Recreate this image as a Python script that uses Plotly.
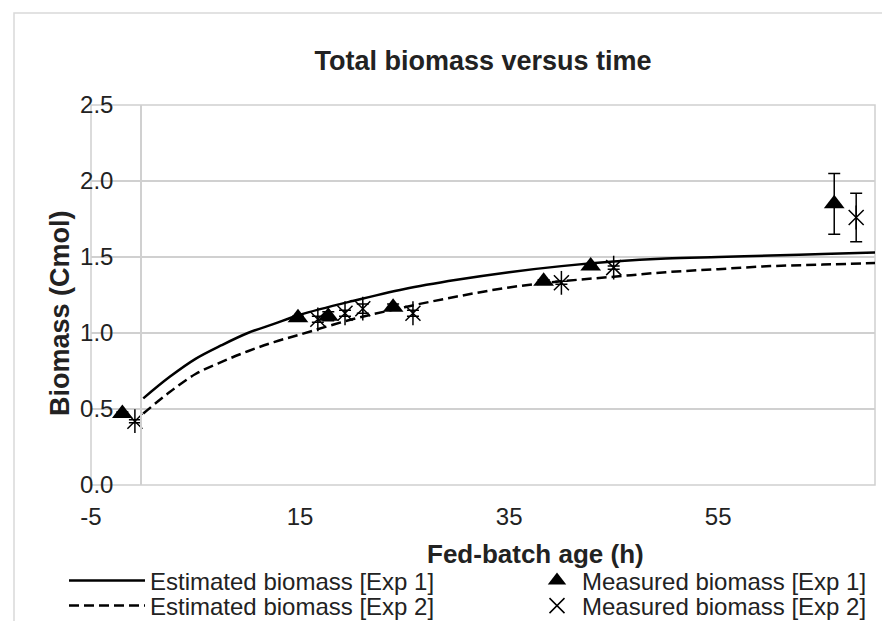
import plotly.graph_objects as go

# ---- data ----
est_x = [0, 2.5, 5, 7.5, 10, 12.5, 15, 20, 25, 30, 35, 40, 45, 50, 55, 60, 65, 70]
est1_y = [0.57, 0.71, 0.83, 0.92, 1.00, 1.06, 1.12, 1.21, 1.29, 1.35, 1.40, 1.44, 1.47, 1.49, 1.50, 1.51, 1.52, 1.53]
est2_y = [0.47, 0.61, 0.73, 0.81, 0.88, 0.94, 0.99, 1.09, 1.17, 1.24, 1.30, 1.34, 1.37, 1.40, 1.42, 1.44, 1.45, 1.46]

meas1_x = [-2.0, 14.8, 17.7, 23.9, 38.3, 42.8, 66.1]
meas1_y = [0.47, 1.10, 1.11, 1.17, 1.34, 1.44, 1.85]
meas1_err = [0.01, 0.01, 0.03, 0.02, 0.01, 0.01, 0.20]

meas2_x = [-0.8, 16.7, 19.3, 21.0, 25.8, 40.0, 45.0, 68.2]
meas2_y = [0.42, 1.09, 1.13, 1.16, 1.13, 1.33, 1.43, 1.76]
meas2_err = [0.01, 0.02, 0.02, 0.03, 0.02, 0.01, 0.01, 0.16]

x_ticks = [-5, 15, 35, 55]
y_ticks = [0.0, 0.5, 1.0, 1.5, 2.0, 2.5]
y_ticklabels = ["0.0", "0.5", "1.0", "1.5", "2.0", "2.5"]

FONT = "Liberation Sans, Arial, sans-serif"
TXT = "#222222"
GRID = "#d0d0d0"

# plot-area geometry (px)
W, H = 890, 621
L, R, T, B = 83, 867, 97, 477
PW, PH = R - L, B - T

def px_x(px):
    return (px - L) / PW

def px_y(py):
    return (B - py) / PH

fig = go.Figure()

fig.add_trace(go.Scatter(
    x=est_x, y=est1_y, mode="lines", name="Estimated biomass [Exp 1]",
    line=dict(color="black", width=2.5, shape="spline"), legend="legend"))
fig.add_trace(go.Scatter(
    x=meas1_x, y=meas1_y, mode="markers", name="Measured biomass [Exp 1]",
    marker=dict(symbol="triangle-up", size=18, color="black"),
    error_y=dict(type="data", array=meas1_err, color="black", thickness=1.5, width=6),
    legend="legend2"))
fig.add_trace(go.Scatter(
    x=est_x, y=est2_y, mode="lines", name="Estimated biomass [Exp 2]",
    line=dict(color="black", width=2.5, dash="10px,5px", shape="spline"), legend="legend3"))
fig.add_trace(go.Scatter(
    x=meas2_x, y=meas2_y, mode="markers", name="Measured biomass [Exp 2]",
    marker=dict(symbol="x-thin-open", size=15, color="black", line=dict(width=1.5, color="black")),
    error_y=dict(type="data", array=meas2_err, color="black", thickness=1.5, width=6),
    legend="legend4"))
fig.add_trace(go.Scatter(
    x=meas2_x, y=meas2_y, mode="markers", showlegend=False, hoverinfo="skip",
    marker=dict(symbol="line-ns-open", size=17, color="black", line=dict(width=1.5, color="black"))))

ROW1, ROW2 = 573, 598
LEFT_X, RIGHT_X = 56, 524
leg_common = dict(xanchor="left", yanchor="middle", orientation="v",
                  font=dict(size=24, family=FONT, color=TXT), bgcolor="rgba(0,0,0,0)")

fig.update_layout(
    width=W, height=H,
    margin=dict(l=L, r=W - R, t=T, b=H - B, autoexpand=False),
    paper_bgcolor="white", plot_bgcolor="white",
    font=dict(family=FONT, color=TXT),
    title=dict(text="<b>Total biomass versus time</b>", x=0.5, xref="paper", xanchor="center",
               y=1 - 53 / H, yref="container", yanchor="middle",
               font=dict(size=27, family=FONT, color=TXT)),
    xaxis=dict(range=[-5, 70], tickmode="array", tickvals=x_ticks, ticktext=[str(v) for v in x_ticks],
               showgrid=False, zeroline=False, showline=False,
               tickfont=dict(size=24, family=FONT, color=TXT), ticks="", ticklabelstandoff=15),
    yaxis=dict(range=[0, 2.5], tickmode="array", tickvals=y_ticks, ticktext=y_ticklabels,
               showgrid=True, gridcolor=GRID, gridwidth=1.5, zeroline=False,
               anchor="free", position=px_x(133), showline=True, linecolor=GRID, linewidth=1.5,
               tickfont=dict(size=24, family=FONT, color=TXT), ticks="", ticklabelstandoff=22),
    showlegend=True,
    legend=dict(x=px_x(LEFT_X), y=px_y(ROW1), itemwidth=76, **leg_common),
    legend3=dict(x=px_x(LEFT_X), y=px_y(ROW2), itemwidth=76, **leg_common),
    legend2=dict(x=px_x(RIGHT_X), y=px_y(ROW1), itemwidth=40, **leg_common),
    legend4=dict(x=px_x(RIGHT_X), y=px_y(ROW2), itemwidth=40, **leg_common),
    annotations=[
        dict(text="<b>Biomass (Cmol)</b>", textangle=-90, xref="paper", yref="paper",
             x=px_x(52), y=px_y(305), showarrow=False, xanchor="center", yanchor="middle",
             font=dict(size=27, family=FONT, color=TXT)),
        dict(text="<b>Fed-batch age (h)</b>", xref="paper", yref="paper",
             x=px_x(527), y=px_y(546), showarrow=False, xanchor="center", yanchor="middle",
             font=dict(size=26, family=FONT, color=TXT)),
    ],
    shapes=[
        dict(type="rect", xref="paper", yref="paper", x0=0, x1=1, y0=0, y1=1,
             line=dict(color=GRID, width=1.5), layer="below"),
        dict(type="rect", xref="paper", yref="paper", x0=px_x(6), x1=px_x(900), y0=px_y(617), y1=px_y(5),
             line=dict(color="#d9d9d9", width=1.5), layer="below"),
    ],
)

fig.write_html("out.html")
